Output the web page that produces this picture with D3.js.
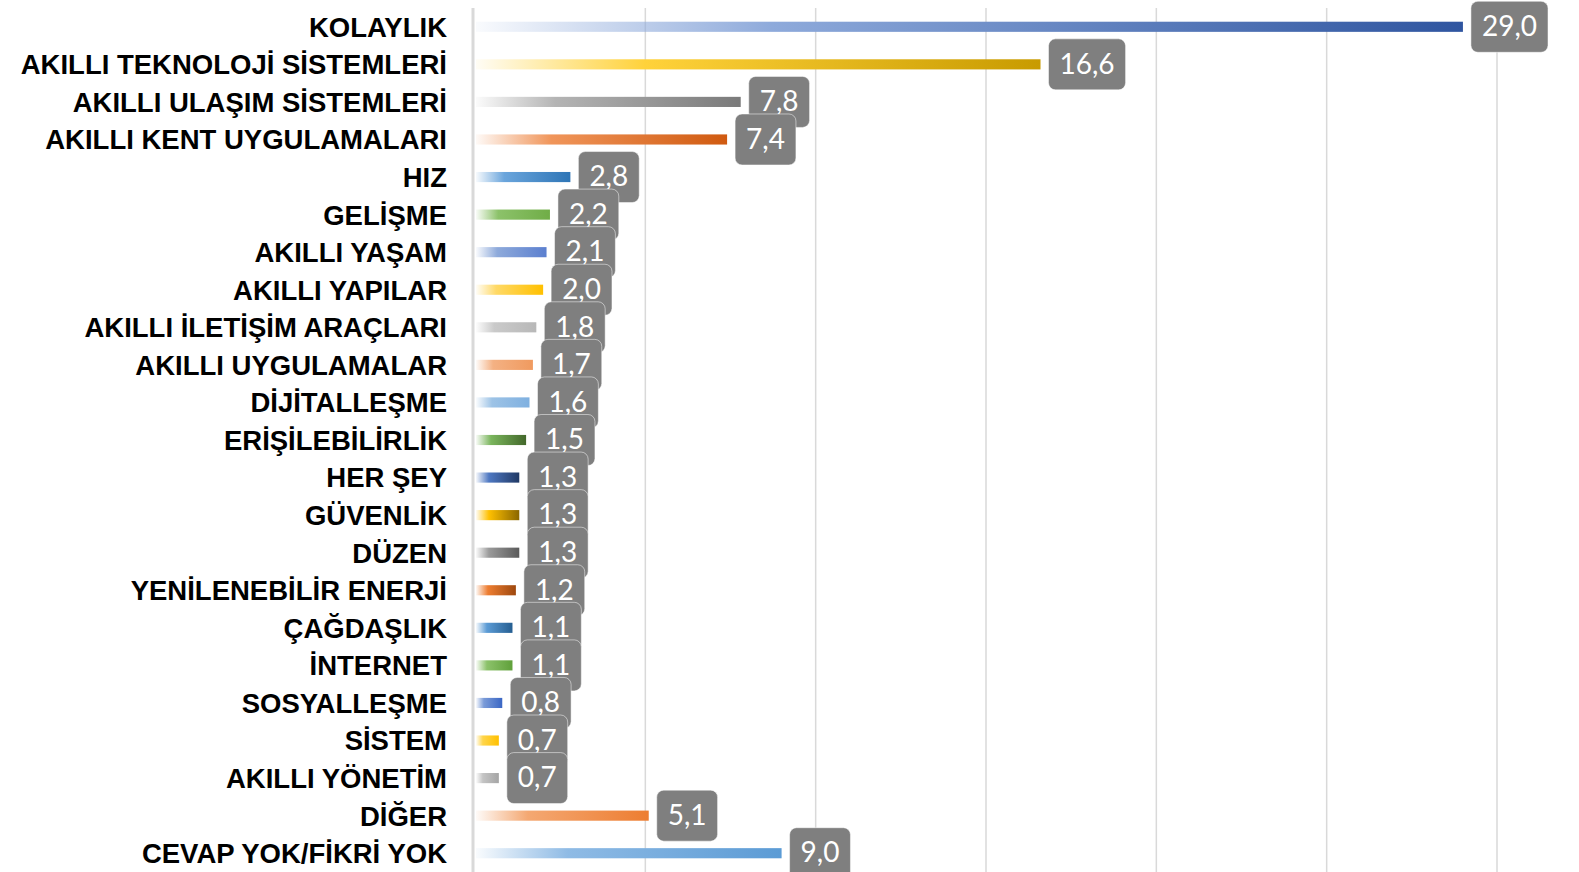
<!DOCTYPE html>
<html>
<head>
<meta charset="utf-8">
<script src="https://cdn.jsdelivr.net/npm/d3@7"></script>
<style>
  body { margin: 0; background: #ffffff; }
  svg { display: block; }
</style>
</head>
<body>
<svg id="chart" width="1579" height="872"></svg>
<script>
const categories = ["KOLAYLIK", "AKILLI TEKNOLOJİ SİSTEMLERİ", "AKILLI ULAŞIM SİSTEMLERİ", "AKILLI KENT UYGULAMALARI",
    "HIZ", "GELİŞME", "AKILLI YAŞAM", "AKILLI YAPILAR", "AKILLI İLETİŞİM ARAÇLARI", "AKILLI UYGULAMALAR",
    "DİJİTALLEŞME", "ERİŞİLEBİLİRLİK", "HER ŞEY", "GÜVENLİK", "DÜZEN", "YENİLENEBİLİR ENERJİ",
    "ÇAĞDAŞLIK", "İNTERNET", "SOSYALLEŞME", "SİSTEM", "AKILLI YÖNETİM", "DİĞER", "CEVAP YOK/FİKRİ YOK"];
const values = [29.0, 16.6, 7.8, 7.4, 2.8, 2.2, 2.1, 2.0, 1.8, 1.7, 1.6, 1.5, 1.3, 1.3, 1.3, 1.2, 1.1, 1.1, 0.8, 0.7, 0.7, 5.1, 9.0];
const gridTicks = [5, 10, 15, 20, 25, 30];

// gradient colours per bar: middle stop and end stop
const midColors = ["#8eaadb", "#ffd23a", "#b4b4b4", "#f0955a", "#6aa5dc", "#8cc26a", "#8eaadb", "#ffd966",
    "#cacaca", "#f4b183", "#9dc3e6", "#7ab55c", "#4e78c2", "#ffc000", "#9a9a9a", "#ed7d31",
    "#5b9bd5", "#8cc26a", "#7a9bd8", "#ffd54a", "#c4c4c4", "#f4a872", "#8fbbe5"];
const endColors = ["#2f55a0", "#c89b00", "#7a7a7a", "#d05a10", "#2e75b6", "#70ad47", "#5b7fcf", "#ffc000",
    "#b8b8b8", "#f09a5f", "#7fb0e0", "#43682b", "#203864", "#8a6600", "#5a5a5a", "#9e480e",
    "#255e91", "#5fa03a", "#3a66c4", "#ffc000", "#a5a5a5", "#ed7d31", "#5b9bd5"];

const svg = d3.select("#chart");
const plotTop = 8, plotBottom = 872;

const x = d3.scaleLinear().domain([0, 30]).range([475, 1497]);
const y = d3.scaleBand().domain(categories).range([plotTop, plotBottom]).paddingInner(0.73).paddingOuter(0.365);

// gridlines
svg.append("g").selectAll("line").data(gridTicks).enter().append("line")
    .attr("x1", d => x(d)).attr("x2", d => x(d))
    .attr("y1", plotTop).attr("y2", plotBottom)
    .attr("stroke", "#d9d9d9").attr("stroke-width", 1.5);

// axis line
svg.append("line")
    .attr("x1", x(0) - 2).attr("x2", x(0) - 2)
    .attr("y1", plotTop).attr("y2", plotBottom)
    .attr("stroke", "#d9d9d9").attr("stroke-width", 3);

// gradients
const defs = svg.append("defs");
categories.forEach(function(c, i) {
    var g = defs.append("linearGradient").attr("id", "grad" + i)
        .attr("x1", "0%").attr("x2", "100%").attr("y1", "0%").attr("y2", "0%");
    g.append("stop").attr("offset", "0%").attr("stop-color", midColors[i]).attr("stop-opacity", 0.05);
    g.append("stop").attr("offset", "30%").attr("stop-color", midColors[i]).attr("stop-opacity", 1);
    g.append("stop").attr("offset", "100%").attr("stop-color", endColors[i]).attr("stop-opacity", 1);
});

// bars
svg.append("g").selectAll("rect").data(values).enter().append("rect")
    .attr("x", x(0) + 1)
    .attr("y", (d, i) => y(categories[i]))
    .attr("width", d => x(d) - x(0) - 1)
    .attr("height", y.bandwidth())
    .attr("fill", (d, i) => "url(#grad" + i + ")");

// category labels
svg.append("g").selectAll("text").data(categories).enter().append("text")
    .attr("x", 447)
    .attr("y", d => y(d) + y.bandwidth() / 2)
    .attr("dy", "0.36em")
    .attr("text-anchor", "end")
    .style("font-family", "'Liberation Sans', Arial, sans-serif")
    .style("font-weight", "bold")
    .style("font-size", "27.5px")
    .attr("fill", "#000000")
    .text(d => d);

// value labels in grey boxes
const fmt = d => d.toFixed(1).replace(".", ",");
const labels = svg.append("g");
values.forEach(function(v, i) {
    var cy = y(categories[i]) + y.bandwidth() / 2;
    var lg = labels.append("g");
    var box = lg.append("rect");
    var t = lg.append("text")
        .attr("y", cy)
        .attr("dy", "0.33em")
        .attr("text-anchor", "middle")
        .style("font-family", "Lato, 'Open Sans', sans-serif")
        .style("font-size", "28px")
        .attr("fill", "#ffffff")
        .text(fmt(v));
    var w = t.node().getComputedTextLength() + 22;
    var bx = x(v) + 8;
    box.attr("x", bx).attr("y", cy - 25.5)
        .attr("width", w).attr("height", 51)
        .attr("rx", 7).attr("ry", 7)
        .attr("fill", "#7f7f7f")
        .attr("stroke", "#ffffff").attr("stroke-width", 0.5);
    t.attr("x", bx + w / 2);
});
</script>
</body>
</html>
